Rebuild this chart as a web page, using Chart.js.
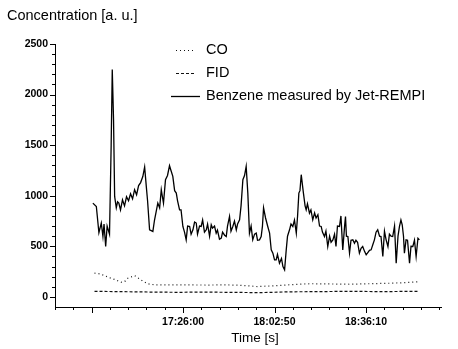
<!DOCTYPE html>
<html>
<head>
<meta charset="utf-8">
<script src="https://cdn.jsdelivr.net/npm/chart.js@4/dist/chart.umd.min.js"></script>
<style>
html,body{margin:0;padding:0;background:#fff;}
#wrap{width:458px;height:349px;position:relative;}
</style>
</head>
<body>
<div id="wrap"><canvas id="c"></canvas></div>
<script>
// ---- data (x = scan index, 10 per minor tick) ----
const benzeneT = [0.7,2.6,4.0,5.3,6.2,6.8,7.7,8.5,9.8,10.7,11.3,12.0,12.6,13.5,14.2,14.9,15.8,16.9,18.0,19.1,20.2,21.3,22.4,23.5,24.6,25.7,26.8,28.0,29.0,29.9,30.6,31.7,33.5,34.4,36.2,37.2,38.1,38.8,39.3,40.4,41.5,42.6,43.4,44.4,45.4,46.3,47.0,48.1,48.9,49.9,50.8,51.7,52.5,53.6,54.4,55.4,56.3,57.2,57.9,59.0,59.9,60.7,61.7,62.7,63.4,64.5,65.4,66.1,67.2,68.1,68.8,69.9,70.9,71.6,72.7,73.6,74.3,75.4,76.2,77.2,78.1,79.1,79.8,80.9,81.7,82.7,83.6,84.5,85.4,86.3,87.2,88.1,89.1,90.0,90.7,91.8,92.7,93.4,94.0,95.1,96.3,97.3,98.2,99.1,100.0,100.9,101.6,102.7,103.8,104.6,105.5,106.4,107.1,108.2,109.0,110.0,110.9,111.9,112.6,113.3,113.9,114.6,115.3,115.8,116.7,117.3,118.0,119.1,119.9,120.9,121.9,122.7,123.7,124.6,125.5,126.2,127.3,128.1,129.1,130.1,130.9,131.9,132.8,133.6,134.4,135.5,136.3,137.3,138.3,138.8,139.3,140.1,141.0,141.8,142.8,143.7,144.5,145.4,146.4,147.3,148.2,149.2,150.1,151.1,151.9,152.8,153.8,154.6,155.5,156.4,157.4,158.2,159.2,160.1,161.0,162.0,162.8,163.7,164.6,165.6,166.5,167.5,168.3,169.1,169.8,170.5,171.0,171.9,172.7,173.8,174.6,175.6,176.5,177.4,178.4,179.2];
const benzeneC = [927,894,634,730,597,720,498,700,620,1500,2247,1752,993,880,940,927,860,960,900,990,950,1020,970,1060,1010,1100,1130,1190,1284,1092,950,663,647,760,927,880,1059,980,927,1158,1200,1297,1250,1191,1050,1026,950,861,860,696,640,564,700,696,620,663,740,730,620,700,696,760,640,663,720,600,713,680,700,630,660,570,581,640,610,597,700,795,650,696,750,663,720,762,900,1158,1200,1290,1026,630,700,564,620,630,560,564,597,700,880,780,696,630,465,432,366,366,420,333,380,300,267,465,600,663,720,696,760,630,800,1026,1050,1208,1100,1026,900,861,920,828,860,762,830,780,812,700,696,640,597,650,498,600,540,564,620,498,700,696,800,465,700,795,600,597,432,560,564,530,560,540,432,480,498,450,416,440,460,465,520,564,640,663,600,597,399,650,564,498,620,600,597,700,333,600,696,760,713,600,432,564,560,333,500,498,560,399,580,564];
const coT = [1.6,4.4,7.1,9.8,12.6,16.2,18.0,19.8,23.5,27.2,30.6,34.4,42.6,53.6,64.5,72.7,80.9,90.7,100.0,108.2,119.1,130.1,141.0,151.9,162.8,171.0,179.2];
const coC = [235,228,210,190,172,145,150,185,210,165,130,119,118,118,117,119,115,102,110,120,130,128,125,130,135,140,150];
const fidT = [1.6,15.3,31.7,48.1,59.0,75.4,91.8,108.2,124.6,141.0,157.4,179.2];
const fidC = [55,52,48,45,48,45,42,50,52,55,52,55];
const seriesNames = ['CO','FID','Benzene measured by Jet-REMPI'];
const xMajorValues = [0,50,100,150];
const xMajorLabels = ['','17:26:00','18:02:50','18:36:10'];
const yLabelStep = 500;

const FONT = "'Liberation Sans', Arial, sans-serif";
const pts = (t, c) => t.map((v, i) => ({x: v, y: c[i]}));

const decorations = {
  id: 'decorations',
  afterDraw(chart) {
    const ctx = chart.ctx;
    const xs = chart.scales.x, ys = chart.scales.y;
    ctx.save();
    ctx.strokeStyle = '#000';
    ctx.lineWidth = 1;
    // tick marks
    xs.ticks.forEach(t => {
      const px = Math.round(xs.getPixelForValue(t.value)) + 0.5;
      const major = xMajorValues.includes(t.value);
      ctx.beginPath();
      ctx.moveTo(px, xs.top);
      ctx.lineTo(px, xs.top + (major ? 6 : 3));
      ctx.stroke();
    });
    ys.ticks.forEach(t => {
      const py = Math.round(ys.getPixelForValue(t.value)) + 0.5;
      const major = t.value % yLabelStep === 0;
      ctx.beginPath();
      ctx.moveTo(ys.right, py);
      ctx.lineTo(ys.right - (major ? 5 : 3), py);
      ctx.stroke();
    });
    // titles
    ctx.fillStyle = '#000';
    ctx.textBaseline = 'middle';
    ctx.textAlign = 'left';
    ctx.font = '14.5px ' + FONT;
    ctx.fillText('Concentration [a. u.]', 7, 16);
    ctx.textAlign = 'center';
    ctx.font = '13.5px ' + FONT;
    ctx.fillText('Time [s]', 255, 338);
    // legend
    const rows = [50, 73, 96];
    chart.data.datasets.forEach((ds, i) => {
      ctx.save();
      ctx.strokeStyle = ds.borderColor;
      ctx.lineWidth = ds.borderWidth;
      ctx.setLineDash(ds.borderDash || []);
      ctx.beginPath();
      ctx.moveTo(i === 2 ? 171 : 176, rows[i] + 0.5);
      ctx.lineTo(i === 2 ? 200 : 194, rows[i] + 0.5);
      ctx.stroke();
      ctx.restore();
      ctx.textAlign = 'left';
      ctx.font = '14.5px ' + FONT;
      ctx.fillText(ds.label, 206, rows[i]);
    });
    ctx.restore();
  }
};

new Chart(document.getElementById('c'), {
  type: 'line',
  data: {
    datasets: [
      {label: seriesNames[0], data: pts(coT, coC), borderColor: '#111', borderWidth: 1.2, borderDash: [1, 3], pointRadius: 0, tension: 0},
      {label: seriesNames[1], data: pts(fidT, fidC), borderColor: '#111', borderWidth: 1.2, borderDash: [3, 2], pointRadius: 0, tension: 0},
      {label: seriesNames[2], data: pts(benzeneT, benzeneC), borderColor: '#000', borderWidth: 1.3, pointRadius: 0, tension: 0}
    ]
  },
  options: {
    responsive: true,
    maintainAspectRatio: false,
    animation: false,
    devicePixelRatio: 1,
    layout: {padding: {top: 44, right: 17, left: 0, bottom: 0}},
    plugins: {legend: {display: false}, tooltip: {enabled: false}},
    scales: {
      x: {
        type: 'linear', min: -20, max: 191,
        afterBuildTicks: s => { const a = []; for (let v = -20; v <= 190; v += 10) a.push({value: v}); s.ticks = a; },
        afterFit: s => { s.height = 42; },
        grid: {display: false, drawTicks: false},
        border: {display: true, color: '#000', width: 1},
        ticks: {
          autoSkip: false, maxRotation: 0, padding: 9, color: '#000',
          font: {family: FONT, size: 10.5, weight: 'bold'},
          callback: v => { const i = xMajorValues.indexOf(v); return i >= 0 ? xMajorLabels[i] : ''; }
        }
      },
      y: {
        type: 'linear', min: -100, max: 2500,
        afterBuildTicks: s => { const a = []; for (let v = 0; v <= 2500; v += 100) a.push({value: v}); s.ticks = a; },
        afterFit: s => { s.width = 55; },
        grid: {display: false, drawTicks: false},
        border: {display: true, color: '#000', width: 1},
        ticks: {
          autoSkip: false, padding: 7, color: '#000',
          font: {family: FONT, size: 10.5, weight: 'bold'},
          callback: v => (v % yLabelStep === 0 ? String(v) : '')
        }
      }
    }
  },
  plugins: [decorations]
});
</script>
</body>
</html>
